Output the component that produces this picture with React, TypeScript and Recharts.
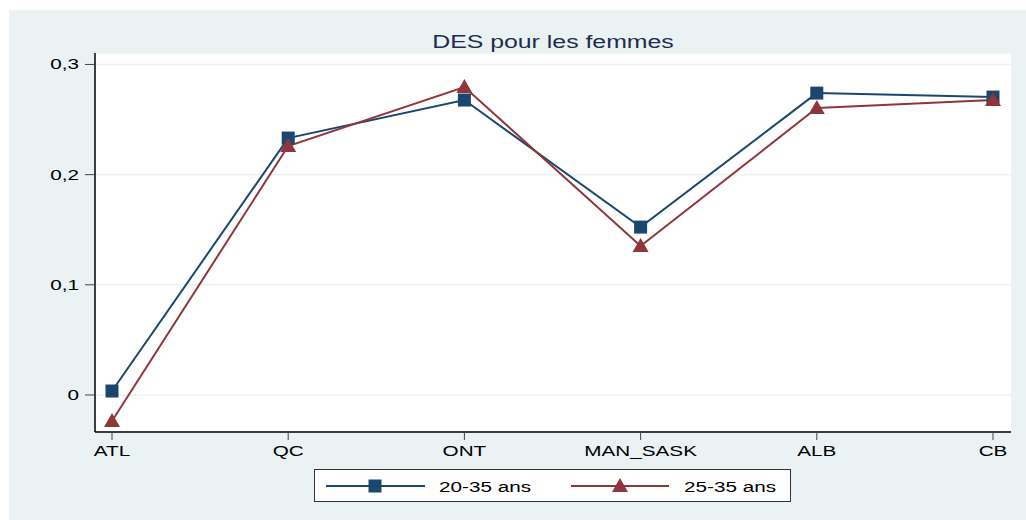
import React from 'react';
import { LineChart, Line, XAxis, YAxis, CartesianGrid } from 'recharts';

const regions = ['ATL', 'QC', 'ONT', 'MAN_SASK', 'ALB', 'CB'];
const ages2035 = [0.0036, 0.2332, 0.2677, 0.1524, 0.274, 0.2704];
const ages2535 = [-0.0236, 0.226, 0.2795, 0.1352, 0.2604, 0.2677];
const yTicks = [0, 0.1, 0.2, 0.3];

const BLUE = '#1a476f';
const RED = '#90353b';
const BG = '#eaf2f3';
const FONT = '"Liberation Sans", Arial, sans-serif';
const STRETCH = 1.38;

const data = regions.map((r, i) => ({ region: r, a: ages2035[i], b: ages2535[i] }));

const fmt = (v: number) => (v === 0 ? '0' : v.toFixed(1).replace('.', ','));

// stata text looks stretched horizontally, so scale it
const WideText = ({ x, y, anchor, size, color, children }: any) => (
    <g transform={`translate(${x},${y}) scale(${STRETCH},1)`}>
        <text x={0} y={0} textAnchor={anchor} fontFamily={FONT} fontSize={size} fill={color}>{children}</text>
    </g>
);

const XTick = (props: any) => {
    const { x, y, payload } = props;
    return <WideText x={x} y={y + 11} anchor="middle" size={15} color="#000">{payload.value}</WideText>;
};

const YTick = (props: any) => {
    const { x, y, payload } = props;
    return <WideText x={x} y={y + 5} anchor="end" size={15} color="#000">{fmt(payload.value)}</WideText>;
};

const Square = (props: any) => {
    const { cx, cy } = props;
    if (cx == null || cy == null) return null;
    return <rect x={cx - 6.5} y={cy - 6.5} width={13} height={13} fill={BLUE} />;
};

const Triangle = (props: any) => {
    const { cx, cy } = props;
    if (cx == null || cy == null) return null;
    return <polygon points={`${cx},${cy - 8} ${cx - 8},${cy + 6} ${cx + 8},${cy + 6}`} fill={RED} />;
};

const LegendBox = () => (
    <div style={{
        position: 'absolute', left: 314, top: 469, width: 475, height: 31,
        border: '1px solid #333', background: '#fff',
    }}>
        <svg width={475} height={31} style={{ position: 'absolute', left: 0, top: 0 }}>
            <line x1={11} x2={110} y1={16} y2={16} stroke={BLUE} strokeWidth={2} />
            <rect x={53.5} y={9.5} width={13} height={13} fill={BLUE} />
            <line x1={256} x2={354} y1={16} y2={16} stroke={RED} strokeWidth={2} />
            <polygon points="305,8 297,22 313,22" fill={RED} />
            <WideText x={124} y={21.5} anchor="start" size={15} color="#000">20-35 ans</WideText>
            <WideText x={369} y={21.5} anchor="start" size={15} color="#000">25-35 ans</WideText>
        </svg>
    </div>
);

export default function App() {
    return (
        <div style={{ position: 'absolute', left: 0, top: 0, width: 1026, height: 520, background: '#fff' }}>
            <div style={{ position: 'absolute', left: 9, top: 10, width: 1017, height: 510, background: BG }} />
            <svg width={1026} height={60} style={{ position: 'absolute', left: 0, top: 0 }}>
                <WideText x={553} y={48} anchor="middle" size={18} color="#1e2d4d">DES pour les femmes</WideText>
            </svg>
            <div style={{ position: 'absolute', left: 0, top: 0 }}>
                <LineChart width={1026} height={520} data={data} margin={{ top: 53, right: 15, bottom: 58, left: 0 }}>
                    <CartesianGrid vertical={false} fill="#fff" stroke={BG} strokeWidth={1.5} />
                    <XAxis
                        dataKey="region"
                        height={30}
                        padding={{ left: 17, right: 18 }}
                        axisLine={{ stroke: '#000', strokeWidth: 1.5 }}
                        tickLine={{ stroke: '#444' }}
                        tickSize={8}
                        tickMargin={5}
                        tick={<XTick />}
                        interval={0}
                    />
                    <YAxis
                        width={95}
                        domain={[-0.0336, 0.3104]}
                        allowDataOverflow
                        ticks={yTicks}
                        axisLine={{ stroke: '#000', strokeWidth: 1.5 }}
                        tickLine={{ stroke: '#444' }}
                        tickSize={10}
                        tickMargin={6}
                        tick={<YTick />}
                    />
                    <Line dataKey="a" stroke={BLUE} strokeWidth={2} dot={<Square />} isAnimationActive={false} />
                    <Line dataKey="b" stroke={RED} strokeWidth={2} dot={<Triangle />} isAnimationActive={false} />
                </LineChart>
            </div>
            <LegendBox />
        </div>
    );
}
